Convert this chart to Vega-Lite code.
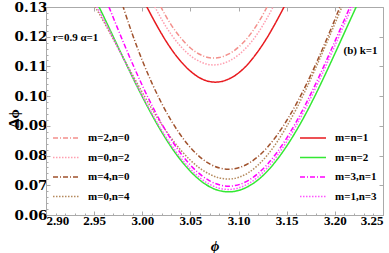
{
  "$schema": "https://vega.github.io/schema/vega-lite/v6.json",
  "width": 337,
  "height": 208,
  "autosize": "none",
  "padding": {"left": 46, "top": 7, "right": 6, "bottom": 38},
  "background": "white",
  "config": {
    "view": {"stroke": "#aaaaaa", "strokeWidth": 1},
    "font": "Liberation Serif",
    "axis": {
      "labelFont": "Liberation Serif", "labelFontWeight": "bold", "labelFontSize": 13, "labelColor": "black",
      "titleFont": "Liberation Serif", "titleFontWeight": "bold", "titleFontSize": 15, "titleColor": "black",
      "domainColor": "#aaaaaa", "tickColor": "#aaaaaa", "grid": false, "tickSize": -4, "labelPadding": 3, "labelOverlap": false
    }
  },
  "datasets": {
    "left": [
      {"s": "m=2,n=0", "phi": 3.01, "d": 0.1364}, {"s": "m=2,n=0", "phi": 3.02, "d": 0.1296}, {"s": "m=2,n=0", "phi": 3.03, "d": 0.124}, {"s": "m=2,n=0", "phi": 3.04, "d": 0.1196}, {"s": "m=2,n=0", "phi": 3.05, "d": 0.1162}, {"s": "m=2,n=0", "phi": 3.06, "d": 0.114}, {"s": "m=2,n=0", "phi": 3.07, "d": 0.1129}, {"s": "m=2,n=0", "phi": 3.08, "d": 0.113}, {"s": "m=2,n=0", "phi": 3.09, "d": 0.1142}, {"s": "m=2,n=0", "phi": 3.1, "d": 0.1165}, {"s": "m=2,n=0", "phi": 3.11, "d": 0.1199}, {"s": "m=2,n=0", "phi": 3.12, "d": 0.1245}, {"s": "m=2,n=0", "phi": 3.13, "d": 0.1303}, {"s": "m=2,n=0", "phi": 3.14, "d": 0.1371},
      {"s": "m=0,n=2", "phi": 3.0, "d": 0.1393}, {"s": "m=0,n=2", "phi": 3.01, "d": 0.1321}, {"s": "m=0,n=2", "phi": 3.02, "d": 0.1259}, {"s": "m=0,n=2", "phi": 3.03, "d": 0.1208}, {"s": "m=0,n=2", "phi": 3.04, "d": 0.1167}, {"s": "m=0,n=2", "phi": 3.05, "d": 0.1136}, {"s": "m=0,n=2", "phi": 3.06, "d": 0.1116}, {"s": "m=0,n=2", "phi": 3.07, "d": 0.1106}, {"s": "m=0,n=2", "phi": 3.08, "d": 0.1107}, {"s": "m=0,n=2", "phi": 3.09, "d": 0.1118}, {"s": "m=0,n=2", "phi": 3.1, "d": 0.1139}, {"s": "m=0,n=2", "phi": 3.11, "d": 0.117}, {"s": "m=0,n=2", "phi": 3.12, "d": 0.1212}, {"s": "m=0,n=2", "phi": 3.13, "d": 0.1265}, {"s": "m=0,n=2", "phi": 3.14, "d": 0.1328}, {"s": "m=0,n=2", "phi": 3.15, "d": 0.1401},
      {"s": "m=4,n=0", "phi": 2.97, "d": 0.1403}, {"s": "m=4,n=0", "phi": 2.99, "d": 0.1206}, {"s": "m=4,n=0", "phi": 3.01, "d": 0.1044}, {"s": "m=4,n=0", "phi": 3.03, "d": 0.0918}, {"s": "m=4,n=0", "phi": 3.05, "d": 0.0827}, {"s": "m=4,n=0", "phi": 3.07, "d": 0.0772}, {"s": "m=4,n=0", "phi": 3.09, "d": 0.0754}, {"s": "m=4,n=0", "phi": 3.11, "d": 0.0773}, {"s": "m=4,n=0", "phi": 3.13, "d": 0.0828}, {"s": "m=4,n=0", "phi": 3.15, "d": 0.0918}, {"s": "m=4,n=0", "phi": 3.17, "d": 0.1037}, {"s": "m=4,n=0", "phi": 3.19, "d": 0.118}, {"s": "m=4,n=0", "phi": 3.21, "d": 0.1338},
      {"s": "m=0,n=4", "phi": 2.93, "d": 0.1402}, {"s": "m=0,n=4", "phi": 2.95, "d": 0.1306}, {"s": "m=0,n=4", "phi": 2.97, "d": 0.1191}, {"s": "m=0,n=4", "phi": 2.99, "d": 0.1071}, {"s": "m=0,n=4", "phi": 3.01, "d": 0.0957}, {"s": "m=0,n=4", "phi": 3.03, "d": 0.0859}, {"s": "m=0,n=4", "phi": 3.05, "d": 0.0784}, {"s": "m=0,n=4", "phi": 3.07, "d": 0.0737}, {"s": "m=0,n=4", "phi": 3.09, "d": 0.0721}, {"s": "m=0,n=4", "phi": 3.11, "d": 0.0742}, {"s": "m=0,n=4", "phi": 3.13, "d": 0.0802}, {"s": "m=0,n=4", "phi": 3.15, "d": 0.0898}, {"s": "m=0,n=4", "phi": 3.17, "d": 0.1023}, {"s": "m=0,n=4", "phi": 3.19, "d": 0.1168}, {"s": "m=0,n=4", "phi": 3.21, "d": 0.132}
    ],
    "right": [
      {"s": "m=n=1", "phi": 2.99, "d": 0.1399}, {"s": "m=n=1", "phi": 3.0, "d": 0.1331}, {"s": "m=n=1", "phi": 3.01, "d": 0.1268}, {"s": "m=n=1", "phi": 3.02, "d": 0.121}, {"s": "m=n=1", "phi": 3.03, "d": 0.1159}, {"s": "m=n=1", "phi": 3.04, "d": 0.1117}, {"s": "m=n=1", "phi": 3.05, "d": 0.1084}, {"s": "m=n=1", "phi": 3.06, "d": 0.1061}, {"s": "m=n=1", "phi": 3.07, "d": 0.1049}, {"s": "m=n=1", "phi": 3.08, "d": 0.1048}, {"s": "m=n=1", "phi": 3.09, "d": 0.1058}, {"s": "m=n=1", "phi": 3.1, "d": 0.1078}, {"s": "m=n=1", "phi": 3.11, "d": 0.1109}, {"s": "m=n=1", "phi": 3.12, "d": 0.115}, {"s": "m=n=1", "phi": 3.13, "d": 0.1199}, {"s": "m=n=1", "phi": 3.14, "d": 0.1256}, {"s": "m=n=1", "phi": 3.15, "d": 0.1318}, {"s": "m=n=1", "phi": 3.16, "d": 0.1385},
      {"s": "m=n=2", "phi": 2.93, "d": 0.1452}, {"s": "m=n=2", "phi": 2.95, "d": 0.1333}, {"s": "m=n=2", "phi": 2.97, "d": 0.1199}, {"s": "m=n=2", "phi": 2.99, "d": 0.1063}, {"s": "m=n=2", "phi": 3.01, "d": 0.0937}, {"s": "m=n=2", "phi": 3.03, "d": 0.0829}, {"s": "m=n=2", "phi": 3.05, "d": 0.0747}, {"s": "m=n=2", "phi": 3.07, "d": 0.0695}, {"s": "m=n=2", "phi": 3.09, "d": 0.0678}, {"s": "m=n=2", "phi": 3.11, "d": 0.0696}, {"s": "m=n=2", "phi": 3.13, "d": 0.0748}, {"s": "m=n=2", "phi": 3.15, "d": 0.0832}, {"s": "m=n=2", "phi": 3.17, "d": 0.0942}, {"s": "m=n=2", "phi": 3.19, "d": 0.1073}, {"s": "m=n=2", "phi": 3.21, "d": 0.1214}, {"s": "m=n=2", "phi": 3.23, "d": 0.1356},
      {"s": "m=3,n=1", "phi": 2.95, "d": 0.1426}, {"s": "m=3,n=1", "phi": 2.97, "d": 0.1263}, {"s": "m=3,n=1", "phi": 2.99, "d": 0.1108}, {"s": "m=3,n=1", "phi": 3.01, "d": 0.0969}, {"s": "m=3,n=1", "phi": 3.03, "d": 0.0854}, {"s": "m=3,n=1", "phi": 3.05, "d": 0.0768}, {"s": "m=3,n=1", "phi": 3.07, "d": 0.0715}, {"s": "m=3,n=1", "phi": 3.09, "d": 0.0697}, {"s": "m=3,n=1", "phi": 3.11, "d": 0.0716}, {"s": "m=3,n=1", "phi": 3.13, "d": 0.0771}, {"s": "m=3,n=1", "phi": 3.15, "d": 0.0859}, {"s": "m=3,n=1", "phi": 3.17, "d": 0.0975}, {"s": "m=3,n=1", "phi": 3.19, "d": 0.1111}, {"s": "m=3,n=1", "phi": 3.21, "d": 0.1258}, {"s": "m=3,n=1", "phi": 3.23, "d": 0.1404},
      {"s": "m=1,n=3", "phi": 2.93, "d": 0.1421}, {"s": "m=1,n=3", "phi": 2.95, "d": 0.1317}, {"s": "m=1,n=3", "phi": 2.97, "d": 0.1194}, {"s": "m=1,n=3", "phi": 2.99, "d": 0.1065}, {"s": "m=1,n=3", "phi": 3.01, "d": 0.0942}, {"s": "m=1,n=3", "phi": 3.03, "d": 0.0836}, {"s": "m=1,n=3", "phi": 3.05, "d": 0.0755}, {"s": "m=1,n=3", "phi": 3.07, "d": 0.0703}, {"s": "m=1,n=3", "phi": 3.09, "d": 0.0686}, {"s": "m=1,n=3", "phi": 3.11, "d": 0.0705}, {"s": "m=1,n=3", "phi": 3.13, "d": 0.0759}, {"s": "m=1,n=3", "phi": 3.15, "d": 0.0847}, {"s": "m=1,n=3", "phi": 3.17, "d": 0.0962}, {"s": "m=1,n=3", "phi": 3.19, "d": 0.1097}, {"s": "m=1,n=3", "phi": 3.21, "d": 0.1243}, {"s": "m=1,n=3", "phi": 3.23, "d": 0.1388}
    ],
    "notes": [
      {"label": "r=0.9 \u03b1=1", "phi": 2.907, "d": 0.1196},
      {"label": "(b) k=1", "phi": 3.209, "d": 0.1152}
    ]
  },
  "layer": [
    {
      "data": {"name": "left"},
      "mark": {"type": "line", "clip": true, "strokeWidth": 1.5, "interpolate": "natural"},
      "encoding": {
        "x": {"field": "phi", "type": "quantitative", "scale": {"domain": [2.9, 3.25], "nice": false, "zero": false},
              "axis": {"title": "\u03d5", "titleFontStyle": "italic", "values": [2.9, 2.95, 3.0, 3.05, 3.1, 3.15, 3.2, 3.25], "format": ".2f", "titlePadding": 11}},
        "y": {"field": "d", "type": "quantitative", "scale": {"domain": [0.06, 0.13], "nice": false, "zero": false},
              "axis": {"title": "\u0394\u03d5", "values": [0.06, 0.07, 0.08, 0.09, 0.1, 0.11, 0.12, 0.13], "format": ".2f", "labelFont": "DejaVu Serif", "labelFontSize": 13.5, "titleX": -33, "titleY": 111, "titleAlign": "center", "titleBaseline": "middle", "titleAngle": -90}},
        "color": {"field": "s", "type": "nominal",
                  "scale": {"domain": ["m=2,n=0", "m=0,n=2", "m=4,n=0", "m=0,n=4"], "range": ["#f3908c", "#ff9fb0", "#a0522d", "#b58a5e"]},
                  "legend": {"orient": "none", "legendX": 6, "legendY": 117, "title": null, "symbolType": "stroke", "symbolSize": 676, "symbolStrokeWidth": 1.5, "labelFont": "Liberation Serif", "labelFontWeight": "bold", "labelFontSize": 11, "labelOffset": 8, "rowPadding": 0.5}},
        "strokeDash": {"field": "s", "type": "nominal",
                  "scale": {"domain": ["m=2,n=0", "m=0,n=2", "m=4,n=0", "m=0,n=4"], "range": [[5, 2, 1, 2], [1.5, 1.5], [5, 2, 1, 2], [1.5, 1.5]]},
                  "legend": {"orient": "none", "legendX": 6, "legendY": 117, "title": null, "symbolType": "stroke", "symbolSize": 676, "symbolStrokeWidth": 1.5, "labelFont": "Liberation Serif", "labelFontWeight": "bold", "labelFontSize": 11, "labelOffset": 8, "rowPadding": 0.5}}
      }
    },
    {
      "data": {"name": "right"},
      "mark": {"type": "line", "clip": true, "strokeWidth": 1.5, "interpolate": "natural"},
      "encoding": {
        "x": {"field": "phi", "type": "quantitative",
              "axis": {"orient": "top", "labels": false, "domain": false, "title": null, "values": [2.9, 2.95, 3.0, 3.05, 3.1, 3.15, 3.2, 3.25]}},
        "y": {"field": "d", "type": "quantitative",
              "axis": {"orient": "right", "labels": false, "domain": false, "title": null, "values": [0.06, 0.07, 0.08, 0.09, 0.1, 0.11, 0.12, 0.13]}},
        "color": {"field": "s", "type": "nominal",
                  "scale": {"domain": ["m=n=1", "m=n=2", "m=3,n=1", "m=1,n=3"], "range": ["#e8191e", "#33e833", "#ff00ff", "#ff55ff"]},
                  "legend": {"orient": "none", "legendX": 253, "legendY": 117, "title": null, "symbolType": "stroke", "symbolSize": 676, "symbolStrokeWidth": 1.5, "labelFont": "Liberation Serif", "labelFontWeight": "bold", "labelFontSize": 11, "labelOffset": 8, "rowPadding": 0.5}},
        "strokeDash": {"field": "s", "type": "nominal",
                  "scale": {"domain": ["m=n=1", "m=n=2", "m=3,n=1", "m=1,n=3"], "range": [[1, 0], [1, 0], [5, 2, 1, 2], [1.5, 1.5]]},
                  "legend": {"orient": "none", "legendX": 253, "legendY": 117, "title": null, "symbolType": "stroke", "symbolSize": 676, "symbolStrokeWidth": 1.5, "labelFont": "Liberation Serif", "labelFontWeight": "bold", "labelFontSize": 11, "labelOffset": 8, "rowPadding": 0.5}}
      }
    },
    {
      "data": {"name": "notes"},
      "mark": {"type": "text", "align": "left", "baseline": "middle", "font": "Liberation Serif", "fontWeight": "bold", "fontSize": 11, "color": "black"},
      "encoding": {
        "x": {"field": "phi", "type": "quantitative",
              "axis": {"orient": "bottom", "labels": false, "domain": false, "title": null, "tickSize": -2,
                       "values": [2.91, 2.92, 2.93, 2.94, 2.96, 2.97, 2.98, 2.99, 3.01, 3.02, 3.03, 3.04, 3.06, 3.07, 3.08, 3.09, 3.11, 3.12, 3.13, 3.14, 3.16, 3.17, 3.18, 3.19, 3.21, 3.22, 3.23, 3.24]}},
        "y": {"field": "d", "type": "quantitative",
              "axis": {"orient": "left", "labels": false, "domain": false, "title": null, "tickSize": -2,
                       "values": [0.062, 0.064, 0.066, 0.068, 0.072, 0.074, 0.076, 0.078, 0.082, 0.084, 0.086, 0.088, 0.092, 0.094, 0.096, 0.098, 0.102, 0.104, 0.106, 0.108, 0.112, 0.114, 0.116, 0.118, 0.122, 0.124, 0.126, 0.128]}},
        "text": {"field": "label"}
      }
    }
  ],
  "resolve": {"scale": {"color": "independent", "strokeDash": "independent"}, "axis": {"x": "independent", "y": "independent"}}
}
